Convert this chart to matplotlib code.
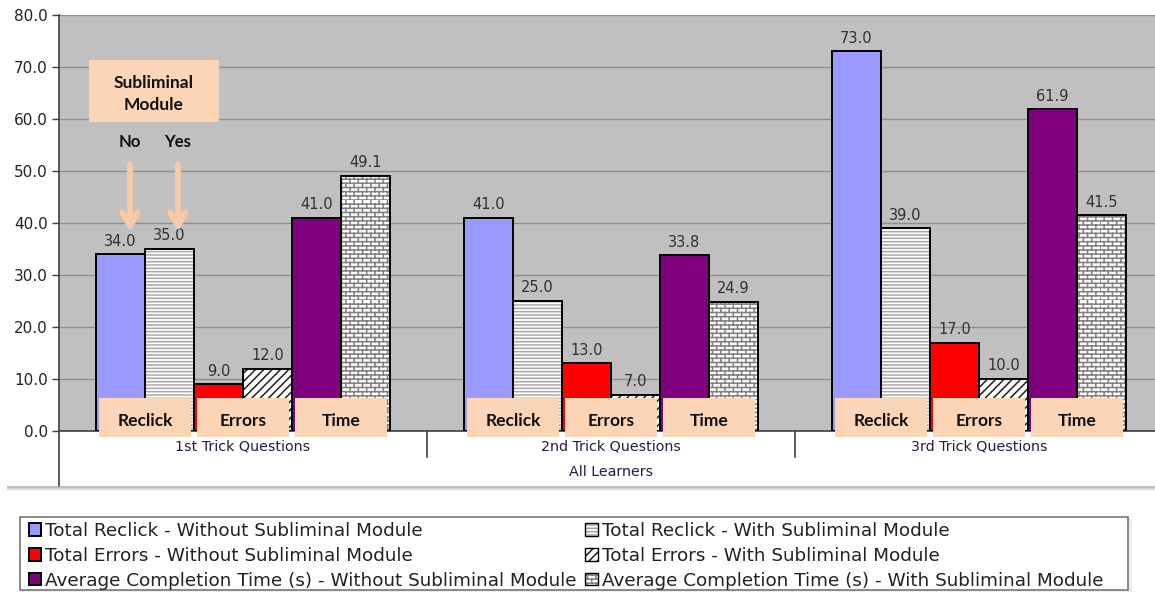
import warnings
import numpy as np
import matplotlib
matplotlib.use("Agg")
import matplotlib.pyplot as plt
import matplotlib.hatch as mhatch
from matplotlib.path import Path
from matplotlib.patches import Rectangle
from matplotlib.lines import Line2D
import matplotlib.transforms as mtransforms

warnings.filterwarnings("ignore")


# Brick hatch: offset rows of short bricks, triggered by the 'b' character
class BrickHatch(mhatch.HatchPatternBase):
    def __init__(self, hatch, density):
        n = hatch.count("b")
        self.rows = int(n * density * 1.0)
        self.per_row = max(int(n * density * 0.5), 1)
        if self.rows:
            self.num_vertices = self.rows * 2 + self.rows * self.per_row * 2
        else:
            self.num_vertices = 0

    def set_vertices_and_codes(self, vertices, codes):
        rh = 1.0 / self.rows
        bw = 1.0 / self.per_row
        i = 0
        for r in range(self.rows):
            y = r * rh
            vertices[i] = (0.0, y); codes[i] = Path.MOVETO; i += 1
            vertices[i] = (1.0, y); codes[i] = Path.LINETO; i += 1
        for r in range(self.rows):
            y0 = r * rh
            off = 0.5 * bw if r % 2 else 0.0
            for k in range(self.per_row):
                x = k * bw + off
                vertices[i] = (x, y0); codes[i] = Path.MOVETO; i += 1
                vertices[i] = (x, y0 + rh); codes[i] = Path.LINETO; i += 1


mhatch._hatch_types.append(BrickHatch)

# ---------------- data ----------------
groups = ["1st Trick Questions", "2nd Trick Questions", "3rd Trick Questions"]
outer_label = "All Learners"
reclick_without = [34.0, 41.0, 73.0]
reclick_with = [35.0, 25.0, 39.0]
errors_without = [9.0, 13.0, 17.0]
errors_with = [12.0, 7.0, 10.0]
time_without = [41.0, 33.8, 61.9]
time_with = [49.1, 24.9, 41.5]
pair_names = ["Reclick", "Errors", "Time"]
series_names = [
    "Total Reclick - Without Subliminal Module",
    "Total Reclick - With Subliminal Module",
    "Total Errors - Without Subliminal Module",
    "Total Errors - With Subliminal Module",
    "Average Completion Time (s) - Without Subliminal Module",
    "Average Completion Time (s) - With Subliminal Module",
]
yticks = [0, 10, 20, 30, 40, 50, 60, 70, 80]

# ---------------- style ----------------
PLOT_BG = "#C0C0C0"
PEACH = "#FBD5B5"
ARROW = "#F8CBA6"
TAG_FONT = ["Lato", "DejaVu Sans"]
plt.rcParams["font.family"] = ["DejaVu Sans"]
plt.rcParams["hatch.linewidth"] = 1.1

W, H = 1155, 592
fig = plt.figure(figsize=(W / 100, H / 100), dpi=100)
fig.patch.set_facecolor("white")

ax_left, ax_right, ax_top, ax_bot = 59, 1163, 15, 431
ax = fig.add_axes([ax_left / W, 1 - ax_bot / H,
                   (ax_right - ax_left) / W, (ax_bot - ax_top) / H])
ax.set_facecolor(PLOT_BG)
ax.set_xlim(-0.5, 2.5)
ax.set_ylim(0, 80)

x = np.arange(len(groups))
bw = 0.1332
offsets = np.array([-2.5, -1.5, -0.5, 0.5, 1.5, 2.5]) * bw

series = [
    (reclick_without, dict(color="#9999FF"), None),
    (reclick_with, dict(color="white"), ("-----", "#A8A8A8")),
    (errors_without, dict(color="#FF0000"), None),
    (errors_with, dict(color="white"), ("////", "#202020")),
    (time_without, dict(color="#800080"), None),
    (time_with, dict(color="white"), ("bbbb", "#808080")),
]

handles = []
for (vals, st, hatch), off, name in zip(series, offsets, series_names):
    if hatch is None:
        b = ax.bar(x + off, vals, bw, color=st["color"], edgecolor="black",
                   linewidth=1.4, zorder=3, label=name)
        handles.append(b[0])
    else:
        ax.bar(x + off, vals, bw, color="white", hatch=hatch[0],
               edgecolor=hatch[1], linewidth=0, zorder=3)
        b = ax.bar(x + off, vals, bw, fill=False, edgecolor="black",
                   linewidth=1.4, zorder=3.1)
        proxy = Rectangle((0, 0), 1, 1, facecolor="white", hatch=hatch[0],
                          edgecolor=hatch[1], linewidth=0)
        handles.append((proxy, Rectangle((0, 0), 1, 1, fill=False,
                                         edgecolor="black", linewidth=1.0)))
    for rect, v in zip(b, vals):
        ax.annotate(f"{v:.1f}", (rect.get_x() + rect.get_width() / 2, v),
                    xytext=(0, 4), textcoords="offset points",
                    ha="center", va="bottom", fontsize=10.5, color="#303030",
                    zorder=6)

# peach tags naming each pair of bars
for g in x:
    for k, nm in enumerate(pair_names):
        cx = g + (k - 1) * 2 * bw
        ax.add_patch(Rectangle((cx - 0.125, -1.15), 0.25, 7.5, facecolor=PEACH,
                               edgecolor="none", zorder=5, clip_on=False))
        ax.text(cx, 1.9, nm, ha="center", va="center", fontsize=12.5,
                fontweight="bold", family=TAG_FONT,
                color="#111111", zorder=6)

# "Subliminal Module" key with arrows pointing at the No / Yes bars
ax.add_patch(Rectangle((-0.4185, 59.4), 0.3533, 11.95, facecolor=PEACH,
                       edgecolor="none", zorder=5))
ax.text(-0.242, 64.8, "Subliminal\nModule", ha="center", va="center",
        fontsize=12.5, fontweight="bold", family=TAG_FONT,
        color="#111111", linespacing=1.45, zorder=6)
for ax_x, word in [(-0.307, "No"), (-0.177, "Yes")]:
    ax.text(ax_x, 55.6, word, ha="center", va="center", fontsize=12,
            fontweight="bold", family=TAG_FONT,
            color="#111111", zorder=6)
    ax.annotate("", xy=(ax_x, 38.2), xytext=(ax_x, 51.3),
                arrowprops=dict(arrowstyle="->,head_length=1.0,head_width=0.55",
                                color=ARROW, lw=4.2, shrinkA=0, shrinkB=0),
                zorder=6)

# axes cosmetics
ax.set_yticks(yticks)
ax.set_yticklabels([f"{t:.1f}" for t in yticks], fontsize=11, color="#222222")
ax.tick_params(axis="y", length=5, width=1, color="#404040", pad=3)
ax.set_xticks([])
ax.yaxis.grid(True, color="#8E8E8E", linewidth=1.0, zorder=0)
ax.set_axisbelow(True)
for s in ["top", "right"]:
    ax.spines[s].set_visible(False)
ax.spines["left"].set_color("#404040")
ax.spines["bottom"].set_color("#404040")
ax.spines["left"].set_linewidth(1.2)
ax.spines["bottom"].set_linewidth(1.2)

# two-level category axis below the plot
axh = ax_bot - ax_top
trans = mtransforms.blended_transform_factory(ax.transData, ax.transAxes)
ax.add_line(Line2D([-0.5, -0.5], [0, -56 / axh], transform=trans,
                   color="#404040", lw=1.2, clip_on=False))
for sep in [0.5, 1.5]:
    ax.add_line(Line2D([sep, sep], [0, -26 / axh], transform=trans,
                       color="#404040", lw=1.2, clip_on=False))
for g, name in zip(x, groups):
    ax.text(g, -16 / axh, name, transform=trans, ha="center", va="center",
            fontsize=10.3, color="#1E2040")
ax.text(1.0, -41 / axh, outer_label, transform=trans, ha="center",
        va="center", fontsize=10.3, color="#1E2040")

# soft shadow under the chart block
for i, (a, c) in enumerate([(0.9, "#A8A8A8"), (0.8, "#BEBEBE"),
                            (0.6, "#D4D4D4"), (0.5, "#E6E6E6")]):
    yy = 1 - (487 + i) / H
    fig.add_artist(Line2D([8 / W, 1], [yy, yy], color=c, lw=1.2, alpha=a))

# legend with its own framed box and shadow
lx0, ly0, lx1, ly1 = 20, 517, 1128, 590
for i, c in enumerate(["#C8C8C8", "#DDDDDD", "#EEEEEE"]):
    fig.add_artist(Rectangle(((lx0 + 2 + i) / W, 1 - (ly1 + 2 + i) / H),
                             (lx1 - lx0) / W, (ly1 - ly0) / H,
                             transform=fig.transFigure, facecolor=c,
                             edgecolor="none", zorder=0))
fig.add_artist(Rectangle((lx0 / W, 1 - ly1 / H), (lx1 - lx0) / W,
                         (ly1 - ly0) / H, transform=fig.transFigure,
                         facecolor="white", edgecolor="#777777", lw=1.2,
                         zorder=1))
order = [0, 2, 4, 1, 3, 5]
leg = fig.legend([handles[i] for i in order], [series_names[i] for i in order],
                 ncol=2, loc="upper left",
                 bbox_to_anchor=(25 / W, 1 - 518 / H),
                 frameon=False, fontsize=13.2, handlelength=0.68,
                 handleheight=0.68, handletextpad=0.2, columnspacing=0.5,
                 labelspacing=0.38, borderaxespad=0, borderpad=0.2)
for t in leg.get_texts():
    t.set_color("#222222")
leg.set_zorder(2)

fig.savefig("out.png", dpi=100, facecolor="white")
